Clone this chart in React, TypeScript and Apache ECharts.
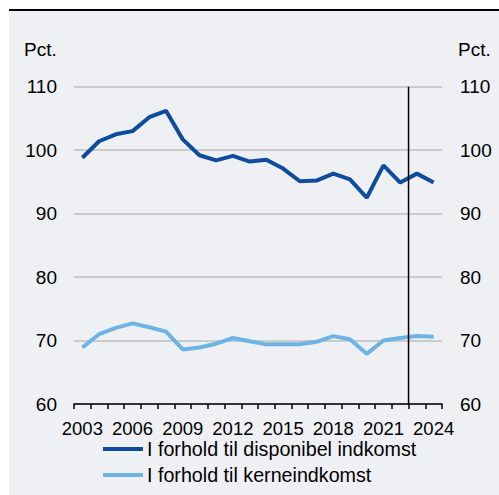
import React, { useEffect, useRef } from "react";
import * as echarts from "echarts";

const years = ["2003","2004","2005","2006","2007","2008","2009","2010","2011","2012","2013","2014","2015","2016","2017","2018","2019","2020","2021","2022","2023","2024"];
const disponibel = [98.8,101.4,102.5,103.0,105.2,106.2,101.7,99.2,98.4,99.1,98.2,98.5,97.1,95.1,95.2,96.3,95.4,92.5,97.6,94.9,96.3,94.9];
const kerne = [68.9,71.0,72.0,72.7,72.1,71.4,68.6,68.9,69.5,70.4,69.9,69.4,69.4,69.4,69.8,70.7,70.2,67.9,70.0,70.4,70.7,70.6];
const seriesNames = ["I forhold til disponibel indkomst", "I forhold til kerneindkomst"];
const projectionBoundary = 19.5;
const yMin = 60;
const yMax = 110;

const FONT = "Liberation Sans, Arial, sans-serif";

export default function App() {
  const ref = useRef<HTMLDivElement>(null);
  useEffect(() => {
    if (!ref.current) return;
    const chart = echarts.init(ref.current, undefined, { renderer: "svg" });
    const yLabel = { color: "#000", fontSize: 19, fontFamily: FONT };
    chart.setOption({
      animation: false,
      backgroundColor: "transparent",
      textStyle: { fontFamily: FONT },
      grid: { left: 74, right: 57, top: 86.7, bottom: 91, containLabel: false },
      graphic: [
        { type: "text", left: 24, top: 40, style: { text: "Pct.", fontSize: 19, fontFamily: FONT, fill: "#000" } },
        { type: "text", left: 458, top: 40, style: { text: "Pct.", fontSize: 19, fontFamily: FONT, fill: "#000" } },
      ],
      legend: {
        data: seriesNames,
        orient: "vertical",
        left: 103,
        top: 439,
        padding: 0,
        itemWidth: 40,
        itemHeight: 4,
        itemGap: 6,
        icon: "rect",
        textStyle: { color: "#000", fontSize: 19.7, fontFamily: FONT, padding: [0, 0, 0, -1] },
        selectedMode: false,
      },
      xAxis: [
        {
          type: "category",
          data: years,
          boundaryGap: true,
          axisLine: { show: true, lineStyle: { color: "#000", width: 1.5 } },
          axisTick: { show: true, alignWithLabel: false, interval: 0, length: 5, lineStyle: { color: "#000", width: 1.5 } },
          axisLabel: { color: "#000", fontSize: 18.5, fontFamily: FONT, interval: 2, margin: 15 },
          splitLine: { show: false },
        },
        { type: "value", min: -0.5, max: 21.5, show: false },
      ],
      yAxis: [
        {
          type: "value", min: yMin, max: yMax, interval: 10, position: "left",
          axisLine: { show: false }, axisTick: { show: false },
          axisLabel: { ...yLabel, margin: 17 },
          splitLine: { show: true, lineStyle: { color: "#bfbfbf", width: 1.5 } },
        },
        {
          type: "value", min: yMin, max: yMax, interval: 10, position: "right",
          axisLine: { show: false }, axisTick: { show: false },
          axisLabel: { ...yLabel, margin: 18 },
          splitLine: { show: false },
        },
      ],
      series: [
        {
          name: seriesNames[0], type: "line", data: disponibel, symbol: "none",
          lineStyle: { color: "#0d4c9e", width: 4 }, itemStyle: { color: "#0d4c9e" }, z: 3,
        },
        {
          name: seriesNames[1], type: "line", data: kerne, symbol: "none",
          lineStyle: { color: "#6cb4e6", width: 4 }, itemStyle: { color: "#6cb4e6" }, z: 3,
        },
        {
          name: "projection", type: "line", xAxisIndex: 1,
          data: [[projectionBoundary, yMin], [projectionBoundary, yMax]],
          symbol: "none", silent: true, z: 4,
          lineStyle: { color: "#000", width: 1.5 },
        },
      ],
    });
    return () => chart.dispose();
  }, []);
  return (
    <div style={{ position: "fixed", left: 0, top: 0, width: 499, height: 495, background: "#fff" }}>
      <div style={{ position: "absolute", left: 9, top: 9, width: 490, height: 2, background: "#000" }} />
      <div style={{ position: "absolute", left: 9, top: 11, width: 490, height: 484, background: "#eff0f3" }} />
      <div ref={ref} style={{ position: "absolute", left: 0, top: 0, width: 499, height: 495 }} />
    </div>
  );
}
